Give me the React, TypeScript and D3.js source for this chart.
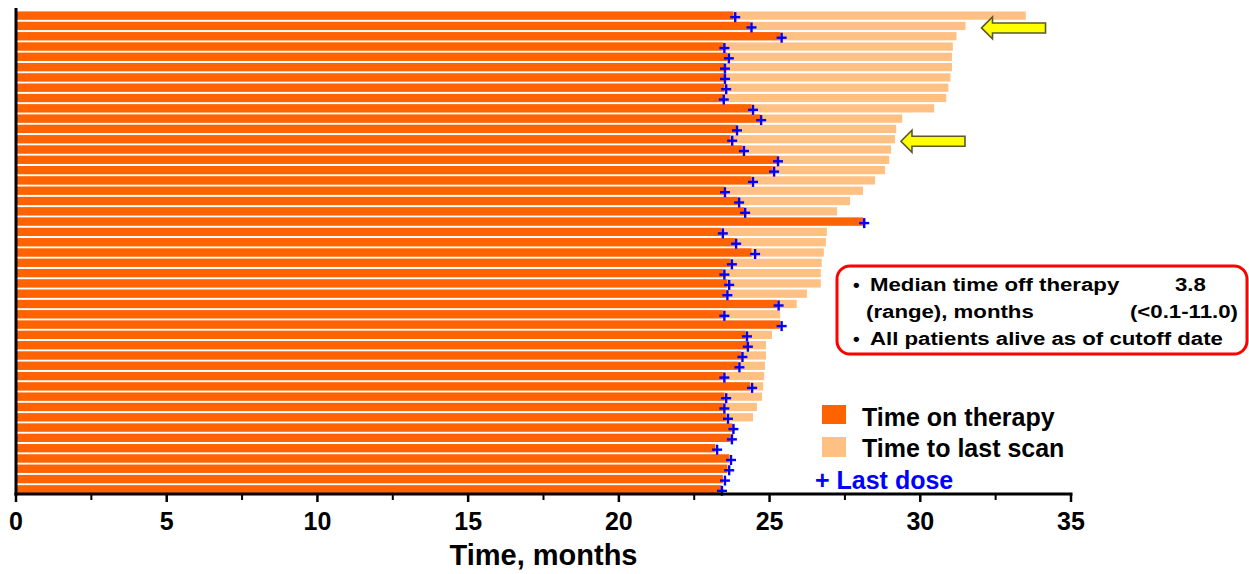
import React from "react";
import * as d3 from "d3";

// Per-patient values (months), top row first
const therapyEnd = [23.8, 24.35, 25.35, 23.45, 23.6, 23.5, 23.5, 23.5, 23.45, 24.4, 24.7, 23.9, 23.7, 24.1, 25.25, 25.1, 24.4, 23.5, 23.95, 24.15, 28.1, 23.4, 23.85, 24.4, 23.7, 23.45, 23.6, 23.55, 25.25, 23.45, 25.35, 24.2, 24.25, 24.05, 23.95, 23.45, 24.35, 23.5, 23.45, 23.55, 23.75, 23.7, 23.2, 23.65, 23.6, 23.45, 23.4];
const lastScan = [33.5, 31.5, 31.2, 31.08, 31.05, 31.05, 31.0, 30.93, 30.86, 30.46, 29.4, 29.2, 29.16, 29.03, 28.97, 28.83, 28.5, 28.1, 27.67, 27.24, 28.1, 26.9, 26.87, 26.8, 26.73, 26.7, 26.7, 26.24, 25.9, 25.35, 25.35, 25.08, 24.88, 24.88, 24.85, 24.82, 24.79, 24.75, 24.58, 24.45, 23.85, 23.8, 23.2, 23.7, 23.6, 23.45, 23.4];
const lastDose = [23.86, 24.4, 25.4, 23.5, 23.65, 23.52, 23.52, 23.56, 23.48, 24.45, 24.72, 23.92, 23.76, 24.15, 25.28, 25.15, 24.45, 23.52, 23.99, 24.19, 28.14, 23.45, 23.89, 24.52, 23.75, 23.5, 23.66, 23.6, 25.3, 23.5, 25.4, 24.25, 24.28, 24.1, 24.0, 23.5, 24.42, 23.56, 23.5, 23.62, 23.8, 23.75, 23.26, 23.72, 23.66, 23.52, 23.42];
const xTicks = [0, 5, 10, 15, 20, 25, 30, 35];
const xMinorTicks = [2.5, 7.5, 12.5, 17.5, 22.5, 27.5, 32.5];
const legendLabels = ["Time on therapy", "Time to last scan", "+ Last dose"];
const boxLines = ["Median time off therapy", "(range), months", "All patients alive as of cutoff date"];
const boxValues = ["3.8", "(<0.1-11.0)"];
const arrowTargets = [1, 12]; // row indices pointed at by arrows

const W = 1249;
const H = 574;
const FONT = "'Liberation Sans', Arial, sans-serif";
const ORANGE = "#FF6200";
const LIGHT = "#FFC083";
const BLUE = "#0000FF";

export default function App() {
  const x = d3.scaleLinear().domain([0, 35]).range([16, 1071]);
  const rows = d3.range(therapyEnd.length);
  const y = d3.scaleBand<number>().domain(rows).range([11, 494]).paddingInner(0.2).paddingOuter(0.05);
  const axisY = 494;
  const sx = 1.17;

  const arrow = (tipX: number, cy: number) => {
    const pts: [number, number][] = [
      [tipX, cy],
      [tipX + 11, cy - 11],
      [tipX + 11, cy - 5],
      [tipX + 64, cy - 5],
      [tipX + 64, cy + 5],
      [tipX + 11, cy + 5],
      [tipX + 11, cy + 11],
    ];
    return pts.map((p) => p.join(",")).join(" ");
  };

  return (
    <svg width={W} height={H} style={{ position: "absolute", left: 0, top: 0, background: "#fff" }} fontFamily={FONT}>
      {/* bars */}
      {rows.map((i) => (
        <g key={i}>
          <rect x={x(0)} y={y(i)} width={Math.max(0, x(lastScan[i]) - x(0))} height={y.bandwidth()} fill={LIGHT} />
          <rect x={x(0)} y={y(i)} width={x(therapyEnd[i]) - x(0)} height={y.bandwidth()} fill={ORANGE} />
        </g>
      ))}
      {/* last dose markers */}
      {rows.map((i) => {
        const cx = x(lastDose[i]);
        const cy = (y(i) as number) + y.bandwidth() / 2 + 1.5;
        return (
          <g key={"p" + i} stroke={BLUE} strokeWidth={2.4}>
            <line x1={cx - 5} x2={cx + 5} y1={cy} y2={cy} />
            <line x1={cx} x2={cx} y1={cy - 5} y2={cy + 5} />
          </g>
        );
      })}
      {/* axes */}
      <line x1={x(0)} x2={x(0)} y1={8} y2={axisY + 1.5} stroke="#000" strokeWidth={3} />
      <line x1={x(0) - 1.5} x2={x(35) + 1.5} y1={axisY} y2={axisY} stroke="#000" strokeWidth={3} />
      {xTicks.map((t) => (
        <g key={"t" + t}>
          <line x1={x(t)} x2={x(t)} y1={axisY} y2={axisY + 8} stroke="#000" strokeWidth={2.5} />
          <text x={x(t)} y={530} textAnchor="middle" fontSize={25} fontWeight="bold" fill="#000">
            {t}
          </text>
        </g>
      ))}
      {xMinorTicks.map((t) => (
        <line key={"m" + t} x1={x(t)} x2={x(t)} y1={axisY} y2={axisY + 6} stroke="#000" strokeWidth={2} />
      ))}
      <text x={(x(0) + x(35)) / 2} y={565} textAnchor="middle" fontSize={29} fontWeight="bold" fill="#000">
        Time, months
      </text>

      {/* arrows */}
      {arrowTargets.map((r, k) => {
        const cy = (y(r) as number) + y.bandwidth() / 2 + 2;
        const tipX = x(lastScan[r]) + (k === 0 ? 16 : 6);
        return <polygon key={"a" + r} points={arrow(tipX, cy)} fill="#FFFF00" stroke="#5A5A2A" strokeWidth={1.6} strokeLinejoin="miter" />;
      })}

      {/* annotation box */}
      <rect x={837} y={266} width={410} height={88} rx={13} ry={13} fill="#fff" stroke="#FF0000" strokeWidth={3} />
      <g fontWeight="bold" fontSize={19} fill="#000">
        <text x={853} y={291}>•</text>
        <text transform={`translate(870,291) scale(${sx},1)`}>{boxLines[0]}</text>
        <text transform={`translate(1175,291) scale(${sx},1)`}>{boxValues[0]}</text>
        <text transform={`translate(866,318) scale(${sx},1)`}>{boxLines[1]}</text>
        <text transform={`translate(1238,318) scale(${sx},1)`} textAnchor="end">{boxValues[1]}</text>
        <text x={853} y={345}>•</text>
        <text transform={`translate(870,345) scale(${sx},1)`}>{boxLines[2]}</text>
      </g>

      {/* legend */}
      <rect x={822} y={405} width={24} height={19} fill={ORANGE} />
      <text x={862} y={426} fontSize={25} fontWeight="bold" fill="#000">{legendLabels[0]}</text>
      <rect x={822} y={437} width={24} height={20} fill={LIGHT} />
      <text x={862} y={457} fontSize={25} fontWeight="bold" fill="#000">{legendLabels[1]}</text>
      <text x={815} y={489} fontSize={25} fontWeight="bold" fill={BLUE}>{legendLabels[2]}</text>
    </svg>
  );
}
